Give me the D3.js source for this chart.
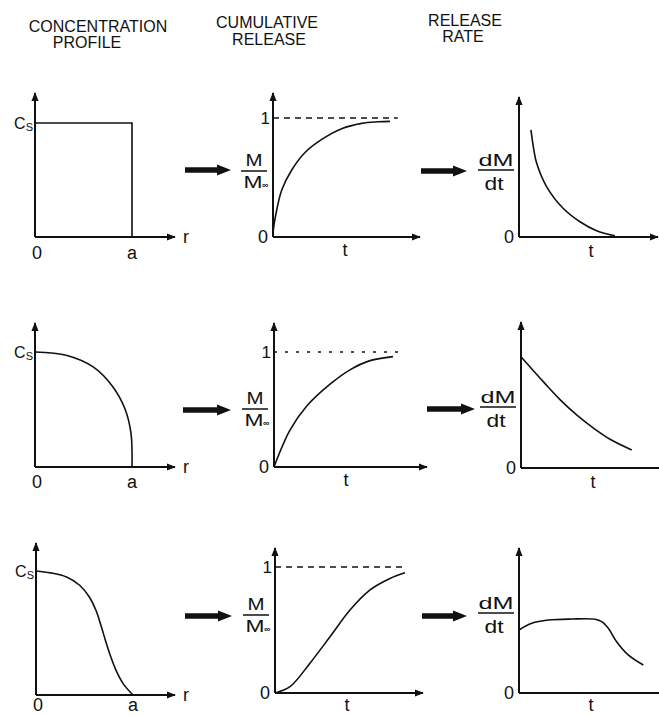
<!DOCTYPE html>
<html>
<head>
<meta charset="utf-8">
<script src="https://cdn.jsdelivr.net/npm/d3@7"></script>
<style>
  body { margin: 0; background: #fff; }
  text { font-family: "Liberation Sans", Arial, sans-serif; fill: #111; }
</style>
</head>
<body>
<svg id="fig" width="659" height="715"></svg>
<script>
// column headers
var headers = [["CONCENTRATION", "PROFILE"], ["CUMULATIVE", "RELEASE"], ["RELEASE", "RATE"]];

// concentration profiles, r/a vs C/Cs
var profileUniform   = [[0, 1], [1, 1], [1, 0]];
var profileParabolic = [[0, 1], [0.33, 0.97], [0.6, 0.87], [0.8, 0.7], [0.93, 0.5], [0.99, 0.29], [1, 0]];
var profileSigmoid   = [[0, 1], [0.15, 0.985], [0.32, 0.95], [0.45, 0.885], [0.55, 0.79], [0.62, 0.68],
                        [0.67, 0.56], [0.72, 0.43], [0.77, 0.31], [0.83, 0.19], [0.9, 0.09], [1, 0]];

// cumulative release, t vs M/Minf
var releaseUniform   = [[0, 0], [0.003, 0.059], [0.031, 0.227], [0.073, 0.395], [0.156, 0.563], [0.267, 0.71],
                        [0.406, 0.82], [0.572, 0.91], [0.739, 0.955], [0.878, 0.968], [0.975, 0.972]];
var releaseParabolic = [[0, 0], [0.133, 0.32], [0.273, 0.53], [0.467, 0.72], [0.633, 0.845], [0.8, 0.925], [0.992, 0.96]];
var releaseSigmoid   = [[0, 0], [0.125, 0.05], [0.29, 0.235], [0.458, 0.446], [0.625, 0.659], [0.79, 0.817],
                        [0.958, 0.909], [1.083, 0.954]];

// release rate, t vs dM/dt
var rateUniform   = [[0.092, 0.94], [0.112, 0.78], [0.136, 0.646], [0.213, 0.44], [0.341, 0.25], [0.469, 0.134],
                     [0.597, 0.055], [0.738, 0.01]];
var rateParabolic = [[0, 0.968], [0.18, 0.74], [0.3, 0.595], [0.428, 0.462], [0.56, 0.345], [0.685, 0.25], [0.852, 0.157]];
var rateSigmoid   = [[0, 0.5], [0.098, 0.553], [0.225, 0.579], [0.405, 0.587], [0.585, 0.585], [0.636, 0.566],
                     [0.687, 0.513], [0.751, 0.407], [0.84, 0.302], [0.956, 0.222]];

var xNames = ["r", "t", "t"];

// where each little plot sits on the page
var panels = [
  {kind: 0, data: profileUniform,   x0: 35,  y0: 237, uw: 97,  uh: 114, xEnd: 175, yTop: 93,  frac: 0,   lab: 22},
  {kind: 1, data: releaseUniform,   x0: 273, y0: 237, uw: 120, uh: 119, xEnd: 420, yTop: 93,  frac: 171, lab: 19, dash: "6,5", dashEnd: 1.04},
  {kind: 2, data: rateUniform,      x0: 519, y0: 237, uw: 130, uh: 114, xEnd: 658, yTop: 97,  frac: 170, lab: 20},
  {kind: 0, data: profileParabolic, x0: 35,  y0: 467, uw: 97,  uh: 115, xEnd: 175, yTop: 323, frac: 0,   lab: 21},
  {kind: 1, data: releaseParabolic, x0: 274, y0: 467, uw: 120, uh: 115, xEnd: 427, yTop: 323, frac: 409, lab: 19, dash: "3,8", dashEnd: 1.07},
  {kind: 2, data: rateParabolic,    x0: 521, y0: 468, uw: 130, uh: 115, xEnd: 668, yTop: 322, frac: 407, lab: 20},
  {kind: 0, data: profileSigmoid,   x0: 36,  y0: 695, uw: 97,  uh: 124, xEnd: 175, yTop: 543, frac: 0,   lab: 16},
  {kind: 1, data: releaseSigmoid,   x0: 275, y0: 693, uw: 120, uh: 126, xEnd: 423, yTop: 548, frac: 615, lab: 18, dash: "6,5", dashEnd: 1.06},
  {kind: 2, data: rateSigmoid,      x0: 519, y0: 693, uw: 130, uh: 126, xEnd: 668, yTop: 548, frac: 613, lab: 18}
];

// big arrows between columns [x1, x2, y]
var bigArrows = [[185, 231, 170], [421, 467, 171], [183, 231, 410], [427, 475, 409], [185, 232, 616], [422, 467, 616]];

var svg = d3.select("#fig");

svg.append("defs").append("marker")
  .attr("id", "ah").attr("viewBox", "0 0 10 10").attr("refX", 9).attr("refY", 5)
  .attr("markerWidth", 4.5).attr("markerHeight", 4.5).attr("markerUnits", "strokeWidth")
  .attr("orient", "auto")
  .append("path").attr("d", "M0,1L10,5L0,9Z").attr("fill", "#111");

// headers
var headX = [[98, 87], [267, 269], [465, 463]];
var headY = [[32, 48], [28, 45], [26, 42]];
headers.forEach(function(h, c) {
  h.forEach(function(s, k) {
    svg.append("text").attr("x", headX[c][k]).attr("y", headY[c][k])
      .attr("text-anchor", "middle").attr("font-size", 16).text(s);
  });
});

// thick arrows
bigArrows.forEach(function(a) {
  svg.append("line").attr("x1", a[0]).attr("x2", a[1] - 10).attr("y1", a[2]).attr("y2", a[2])
    .attr("stroke", "#111").attr("stroke-width", 5.5);
  svg.append("path").attr("d", "M" + (a[1] - 14) + "," + (a[2] - 5.5) + "L" + a[1] + "," + a[2] + "L" + (a[1] - 14) + "," + (a[2] + 5.5) + "Z")
    .attr("fill", "#111");
});

// wide lettering as in the original drawing
function wide(g, x, y, s, size, len) {
  return g.append("text").attr("x", x - len / 2).attr("y", y).attr("font-size", size)
    .attr("textLength", len).attr("lengthAdjust", "spacingAndGlyphs").text(s);
}

panels.forEach(function(p) {
  var g = svg.append("g");
  var x = d3.scaleLinear().domain([0, 1]).range([p.x0, p.x0 + p.uw]);
  var y = d3.scaleLinear().domain([0, 1]).range([p.y0, p.y0 - p.uh]);

  // axes
  g.append("line").attr("x1", x(0)).attr("y1", y(0)).attr("x2", p.xEnd).attr("y2", y(0))
    .attr("stroke", "#111").attr("stroke-width", 2).attr("marker-end", "url(#ah)");
  g.append("line").attr("x1", x(0)).attr("y1", y(0)).attr("x2", x(0)).attr("y2", p.yTop)
    .attr("stroke", "#111").attr("stroke-width", 2).attr("marker-end", "url(#ah)");

  if (p.dash) {
    g.append("line").attr("x1", x(0)).attr("x2", x(p.dashEnd)).attr("y1", y(1)).attr("y2", y(1))
      .attr("stroke", "#111").attr("stroke-width", 1.5).attr("stroke-dasharray", p.dash);
  }

  var curve = p.data === profileUniform ? d3.curveLinear : d3.curveCatmullRom.alpha(0.5);
  var line = d3.line().x(function(d) { return x(d[0]); }).y(function(d) { return y(d[1]); }).curve(curve);
  g.append("path").datum(p.data).attr("d", line)
    .attr("fill", "none").attr("stroke", "#111").attr("stroke-width", 1.6);

  if (p.kind === 0) {
    var cs = g.append("text").attr("x", x(0) - 2).attr("y", y(1) + 6).attr("text-anchor", "end").attr("font-size", 16);
    cs.append("tspan").text("C");
    cs.append("tspan").attr("font-size", 11).attr("dy", 2).text("S");
    g.append("text").attr("x", x(0) + 2).attr("y", y(0) + p.lab).attr("text-anchor", "middle").attr("font-size", 18).text("0");
    g.append("text").attr("x", x(1)).attr("y", y(0) + p.lab).attr("text-anchor", "middle").attr("font-size", 18).text("a");
    g.append("text").attr("x", p.xEnd + 11).attr("y", y(0) + 6).attr("text-anchor", "middle").attr("font-size", 18).text(xNames[0]);
  } else {
    g.append("text").attr("x", x(0) - 10).attr("y", y(0) + 6).attr("text-anchor", "middle").attr("font-size", 18).text("0");
    g.append("text").attr("x", x(0) + 72).attr("y", y(0) + p.lab).attr("text-anchor", "middle").attr("font-size", 18).text(xNames[p.kind]);
    if (p.kind === 1) {
      g.append("text").attr("x", x(0) - 3).attr("y", y(1) + 6).attr("text-anchor", "end").attr("font-size", 17).text("1");
      var cx = x(0) - 19;
      wide(g, cx, p.frac - 5, "M", 16, 17);
      g.append("line").attr("x1", cx - 13).attr("x2", cx + 13).attr("y1", p.frac).attr("y2", p.frac)
        .attr("stroke", "#111").attr("stroke-width", 1.5);
      wide(g, cx - 1, p.frac + 17, "M", 16, 19);
      g.append("text").attr("x", cx + 8).attr("y", p.frac + 17).attr("font-size", 9)
        .attr("font-weight", "bold").text("\u221E");
    } else {
      var cd = x(0) - 23;
      wide(g, cd, p.frac - 4, "dM", 17, 35);
      g.append("line").attr("x1", cd - 18).attr("x2", cd + 18).attr("y1", p.frac).attr("y2", p.frac)
        .attr("stroke", "#111").attr("stroke-width", 1.5);
      wide(g, cd - 2, p.frac + 20, "dt", 18, 19);
    }
  }
});
</script>
</body>
</html>
